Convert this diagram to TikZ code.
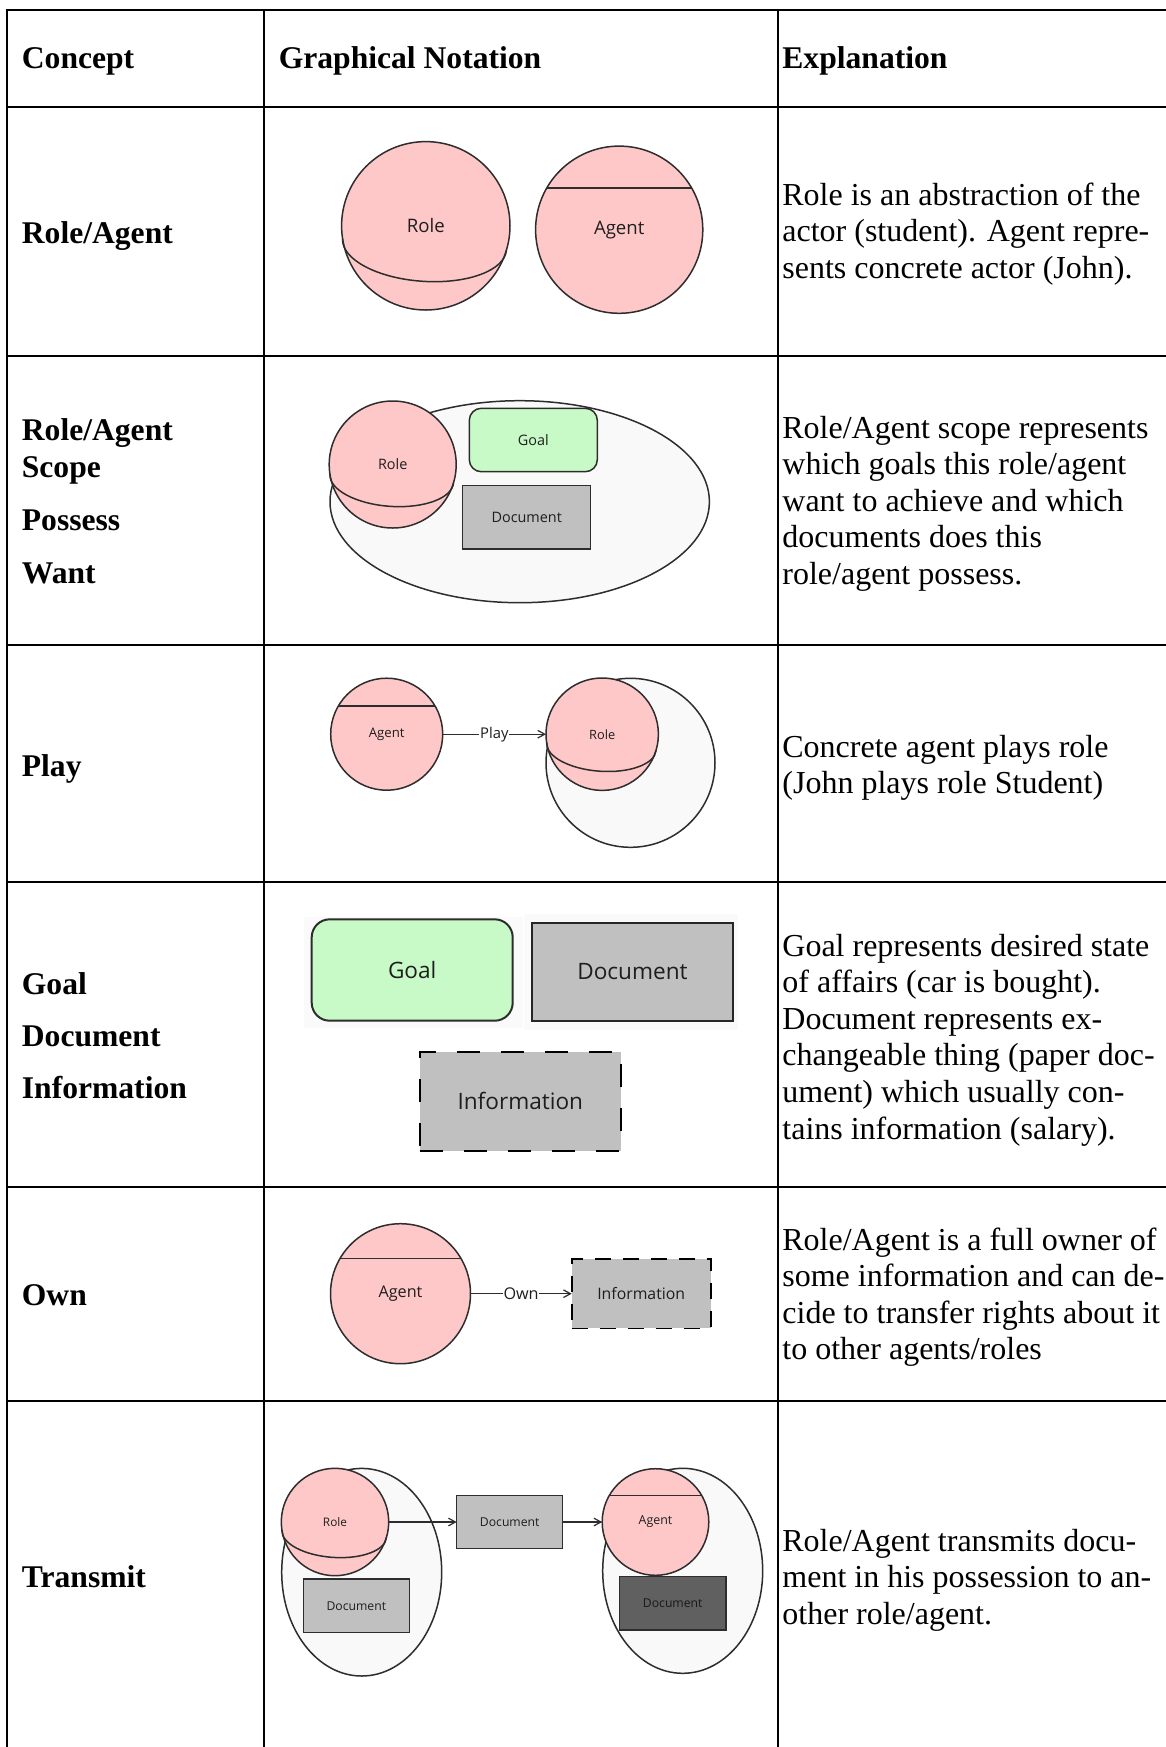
\documentclass[tikz,border=0pt]{standalone}
\usepackage{fontspec}
\setmainfont{Liberation Serif}
\newfontfamily\uifont{Open Sans}
\usetikzlibrary{arrows.meta,shapes.geometric}

\definecolor{rolefill}{RGB}{255,200,200}
\definecolor{goalfill}{RGB}{200,250,200}
\definecolor{docfill}{RGB}{192,192,192}
\definecolor{scopefill}{RGB}{249,249,249}
\definecolor{darkdoc}{RGB}{96,96,96}
\definecolor{shapeline}{RGB}{45,45,45}
\definecolor{labeltext}{RGB}{30,30,30}

% lower half of the "equator" ellipse of a role sphere: centre x, centre y, radius (px)
\newcommand\equator[3]{%
  \begin{scope}[shift={(#1,#2)}, rotate=-4]
    \draw[draw=shapeline, line width=0.75pt]
      (-0.975*#3, 0.22*#3) arc[start angle=180, end angle=0, x radius=0.975*#3, y radius=0.44*#3];
  \end{scope}}

% one explanation paragraph, one node per printed line
\newcommand\explain[3]{%
  \foreach \ln [count=\k] in {#3}
    \node[body] (#1-\k) at (782, {#2+(\k-1)*36.6}) {\ln};}

\begin{document}
\begin{tikzpicture}[x=0.5pt, y=-0.5pt,
  grid/.style={line width=1.3pt, black},
  head/.style={font=\fontsize{15.8pt}{18pt}\selectfont\bfseries, anchor=base west, inner sep=0pt},
  body/.style={font=\fontsize{16pt}{18.3pt}\selectfont, anchor=base west, inner sep=0pt},
  ui/.style={font=\uifont\fontsize{#1}{#1}\selectfont},
  outline/.style={draw=shapeline, line width=0.75pt, inner sep=0pt, outer sep=0pt, text=labeltext},
  rolenode/.style={outline, circle, fill=rolefill},
  scopearea/.style={outline, fill=scopefill},
  docnode/.style={outline, rectangle, fill=docfill},
  goalnode/.style={outline, rectangle, fill=goalfill},
  infonode/.style={outline, rectangle, fill=docfill, draw=black},
  backdrop/.style={rectangle, fill=black!2, inner sep=0pt},
  conn/.style={draw=shapeline, line width=0.6pt, -{Straight Barb[length=3.5pt, width=3.8pt]}},
  edgelabel/.style={fill=white, inner sep=0.4pt, text=labeltext}
]
\useasboundingbox (0,0) rectangle (1166,1747);
\fill[white] (0,0) rectangle (1166,1747);

% ---- table rules ----
\draw[grid] (1166,10) -- (7,10) -- (7,1747);
\foreach \y in {107,356,645,882,1187,1401}
  \draw[grid] (7,\y) -- (1166,\y);
\foreach \x in {264,778}
  \draw[grid] (\x,10) -- (\x,1747);

% ---- header ----
\node[head] (hConcept) at (21.5,68) {Concept};
\node[head] (hNotation) at (278.4,68) {Graphical Notation};
\node[head] (hExpl) at (782,68) {Explanation};

% ---- concept column ----
\node[head] (c1) at (21.5,243) {Role/Agent};
\node[head] (c2a) at (21.5,440) {Role/Agent};
\node[head] (c2b) at (21.5,477) {Scope};
\node[head] (c2c) at (21.5,530.5) {Possess};
\node[head] (c2d) at (21.5,583) {Want};
\node[head] (c3) at (21.5,776) {Play};
\node[head] (c4a) at (21.5,994) {Goal};
\node[head] (c4b) at (21.5,1046) {Document};
\node[head] (c4c) at (21.5,1098.6) {Information};
\node[head] (c5) at (21.5,1305) {Own};
\node[head] (c6) at (21.5,1587) {Transmit};

% ---- explanation column ----
\explain{e1}{205}{{Role is an abstraction of the},{actor (student). Agent repre-},{sents concrete actor (John).}}
\explain{e2}{438}{{Role/Agent scope represents},{which goals this role/agent},{want to achieve and which},{documents does this},{role/agent possess.}}
\explain{e3}{757}{{Concrete agent plays role},{(John plays role Student)}}
\explain{e4}{956}{{Goal represents desired state},{of affairs (car is bought).},{Document represents ex-},{changeable thing (paper doc-},{ument) which usually con-},{tains information (salary).}}
\explain{e5}{1250}{{Role/Agent is a full owner of},{some information and can de-},{cide to transfer rights about it},{to other agents/roles}}
\explain{e6}{1551}{{Role/Agent transmits docu-},{ment in his possession to an-},{other role/agent.}}

% ---- row 1: role and agent ----
\node[rolenode, minimum size=84.2pt, ui=9.3pt] (r1role) at (425.8,225.8) {Role};
\equator{425.8}{225.8}{84.2}
\node[rolenode, minimum size=83.6pt, ui=9.3pt] (r1agent) at (619.2,229.7) {Agent};
\draw[draw=shapeline, line width=0.75pt] (r1agent.150) -- (r1agent.30);

% ---- row 2: scope ----
\node[scopearea, ellipse, minimum width=189.7pt, minimum height=101pt] (r2scope) at (519.7,501.7) {};
\node[rolenode, minimum size=63.5pt, ui=7.2pt] (r2role) at (392.7,464.5) {Role};
\equator{392.7}{464.5}{63.5}
\node[goalnode, rounded corners=6pt, minimum width=64pt, minimum height=31.7pt, ui=7.2pt] (r2goal) at (533.3,440) {Goal};
\node[docnode, minimum width=64pt, minimum height=31.85pt, ui=7.2pt] (r2doc) at (526.7,517.2) {Document};

% ---- row 3: play ----
\node[scopearea, circle, minimum size=84.5pt] (r3scope) at (630.5,762.8) {};
\node[rolenode, minimum size=56pt, ui=6.6pt] (r3agent) at (386.7,734.2) {Agent};
\draw[draw=shapeline, line width=0.75pt] (r3agent.150) -- (r3agent.30);
\node[rolenode, minimum size=56.2pt, ui=6.4pt] (r3role) at (602.2,734.2) {Role};
\equator{602.2}{734.2}{56.2}
\draw[conn] (r3agent.east) -- node[edgelabel, ui=7.4pt] (r3play) {Play} (r3role.west);

% ---- row 4: goal, document, information ----
\node[backdrop, minimum width=109.35pt, minimum height=55.8pt] (r4goalbg) at (413.35,972.5) {};
\node[backdrop, minimum width=107.15pt, minimum height=58pt] (r4docbg) at (631.15,972) {};
\node[goalnode, rounded corners=9pt, line width=1pt, minimum width=100.5pt, minimum height=50.7pt, ui=11.3pt] (r4goal) at (412.2,970) {Goal};
\node[docnode, line width=1.1pt, draw=black!85, minimum width=100.2pt, minimum height=49pt, ui=11.3pt] (r4doc) at (632.5,971.7) {Document};
\node[infonode, line width=1pt, dash pattern=on 11.5pt off 10.5pt, minimum width=100.35pt, minimum height=49.5pt, ui=11.3pt] (r4info) at (520.3,1101.2) {Information};

% ---- row 5: own ----
\node[rolenode, minimum size=70pt, ui=8.1pt] (r5agent) at (400.5,1293.7) {Agent};
\draw[draw=shapeline, line width=0.75pt] (r5agent.150) -- (r5agent.30);
\node[infonode, line width=0.8pt, dash pattern=on 8pt off 6pt, minimum width=69.5pt, minimum height=34.65pt, ui=7.9pt] (r5info) at (641.2,1293.7) {Information};
\draw[conn] (r5agent.east) -- node[edgelabel, ui=8.1pt] (r5own) {Own} (r5info.west);

% ---- row 6: transmit ----
\node[scopearea, ellipse, minimum width=80pt, minimum height=103.8pt] (r6lscope) at (361.7,1572.2) {};
\node[rolenode, minimum size=53.7pt, ui=5.9pt] (r6role) at (335,1522) {Role};
\equator{335}{1522}{53.7}
\node[docnode, minimum width=53pt, minimum height=26.65pt, ui=6.1pt] (r6ldoc) at (356.3,1605.7) {Document};
\node[docnode, minimum width=53pt, minimum height=26.7pt, ui=6.1pt] (r6mdoc) at (509.7,1522) {Document};
\node[scopearea, ellipse, minimum width=80pt, minimum height=102.5pt] (r6rscope) at (682.7,1570.8) {};
\node[rolenode, minimum size=53.3pt, ui=6.2pt] (r6agent) at (655.5,1522) {Agent};
\draw[draw=shapeline, line width=0.75pt] (r6agent.150) -- (r6agent.30);
\node[docnode, fill=darkdoc, minimum width=53.35pt, minimum height=26.65pt, ui=6.1pt, text=black!90] (r6rdoc) at (672.7,1603.3) {Document};
\draw[conn] (r6role.east) -- (r6mdoc.west);
\draw[conn] (r6mdoc.east) -- (r6agent.west);
\end{tikzpicture}
\end{document}
